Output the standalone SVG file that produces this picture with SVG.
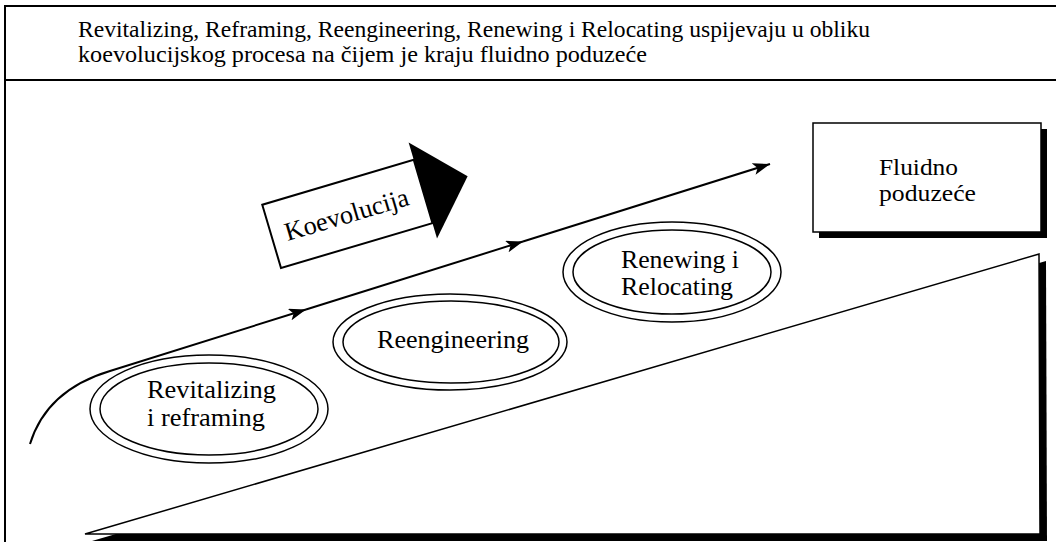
<svg xmlns="http://www.w3.org/2000/svg" width="1056" height="542" viewBox="0 0 1056 542">
  <style>
    text { font-family: "Liberation Serif", "Times New Roman", serif; fill: #000; }
    .frame { stroke: #000; stroke-width: 2; fill: none; }
    .ell { fill: #fff; stroke: #000; stroke-width: 1.5; }
    .flow { fill: none; stroke: #000; stroke-width: 2; marker-end: url(#head); }
  </style>
  <defs>
    <marker id="head" markerUnits="userSpaceOnUse" markerWidth="18" markerHeight="12" refX="17" refY="6" orient="auto">
      <path d="M0,0 L17,6 L0,12 L4,6 Z" fill="#000"/>
    </marker>
  </defs>
  <rect width="1056" height="542" fill="#fff"/>

  <!-- outer frame and header -->
  <g id="header">
    <line class="frame" x1="5" y1="6" x2="1056" y2="6"/>
    <line class="frame" x1="5" y1="80" x2="1056" y2="80"/>
    <line class="frame" x1="5" y1="5" x2="5" y2="542"/>
    <text x="78" y="37" font-size="23.5" textLength="792" lengthAdjust="spacingAndGlyphs">Revitalizing, Reframing, Reengineering, Renewing i Relocating uspijevaju u obliku</text>
    <text x="78" y="62" font-size="23.5" textLength="569" lengthAdjust="spacingAndGlyphs">koevolucijskog procesa na čijem je kraju fluidno poduzeće</text>
  </g>

  <!-- rising wedge with drop shadow -->
  <g id="wedge">
    <polygon points="92,541 1046,261 1047,541" fill="#000"/>
    <polygon points="85,534 1039,254 1040,534" fill="#fff" stroke="#000" stroke-width="1.5"/>
  </g>

  <!-- target box -->
  <g id="fluidno">
    <rect x="819" y="129" width="228" height="109" fill="#000"/>
    <rect x="813" y="123" width="228" height="109" fill="#fff" stroke="#000" stroke-width="1.5"/>
    <text x="879" y="175" font-size="23.5" textLength="79" lengthAdjust="spacingAndGlyphs">Fluidno</text>
    <text x="879" y="201" font-size="23.5" textLength="97" lengthAdjust="spacingAndGlyphs">poduzeće</text>
  </g>

  <!-- stage ellipses -->
  <g id="revitalizing">
    <ellipse class="ell" cx="209" cy="409" rx="119" ry="54"/>
    <ellipse class="ell" cx="209" cy="409" rx="109" ry="46"/>
    <text x="147" y="398" font-size="25" textLength="129" lengthAdjust="spacingAndGlyphs">Revitalizing</text>
    <text x="147" y="426" font-size="25" textLength="118" lengthAdjust="spacingAndGlyphs">i reframing</text>
  </g>
  <g id="reengineering">
    <ellipse class="ell" cx="450" cy="342" rx="117" ry="48"/>
    <ellipse class="ell" cx="451" cy="342" rx="108" ry="41"/>
    <text x="377" y="348" font-size="26" textLength="152" lengthAdjust="spacingAndGlyphs">Reengineering</text>
  </g>
  <g id="renewing">
    <ellipse class="ell" cx="672" cy="272" rx="109" ry="50"/>
    <ellipse class="ell" cx="672" cy="272" rx="99" ry="42"/>
    <text x="621" y="268" font-size="25" textLength="118" lengthAdjust="spacingAndGlyphs">Renewing i</text>
    <text x="621" y="295" font-size="25" textLength="112" lengthAdjust="spacingAndGlyphs">Relocating</text>
  </g>

  <!-- coevolution block arrow -->
  <g id="koevolucija" transform="translate(281,268) rotate(-16.5)">
    <rect x="0" y="-66" width="158" height="66" fill="#fff" stroke="#000" stroke-width="2"/>
    <polygon points="158,-84 158,16 205,-35" fill="#000"/>
    <text x="14" y="-24" font-size="26" textLength="128" lengthAdjust="spacingAndGlyphs">Koevolucija</text>
  </g>

  <!-- process path -->
  <g id="connectors">
    <path class="flow" d="M30,444 C42,405 70,383 110,371 L306,309.5"/>
    <path class="flow" d="M306,309.5 L523,241.5"/>
    <path class="flow" d="M523,241.5 L770,164"/>
  </g>
</svg>
